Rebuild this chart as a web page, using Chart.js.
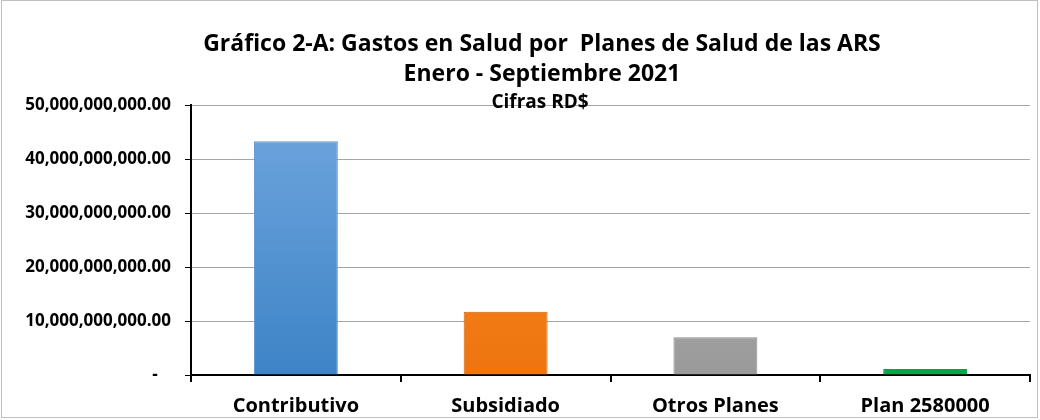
<!DOCTYPE html>
<html>
<head>
<meta charset="utf-8">
<script src="https://cdn.jsdelivr.net/npm/chart.js@4.4.1/dist/chart.umd.min.js"></script>
<style>
  html, body { margin: 0; padding: 0; background: #fff; }
  #wrap { width: 1040px; height: 420px; position: relative; }
</style>
</head>
<body>
<div id="wrap"><canvas id="gastosChart"></canvas></div>
<script>
// Gasto en salud por plan (RD$), Enero - Septiembre 2021
const categories = ['Contributivo', 'Subsidiado', 'Otros Planes', 'Plan 2580000'];
const gastos = [43300000000, 11700000000, 7000000000, 1100000000];
const titleLines = ['Gráfico 2-A: Gastos en Salud por  Planes de Salud de las ARS', 'Enero - Septiembre 2021'];
const subTitle = 'Cifras RD$';

const barTop = ['#70a6de', '#fb8c22', '#b8b8b8', '#00b050'];
const barBottom = ['#3e84c7', '#ee7510', '#9a9a9a', '#00a64a'];
const barEdge = ['#5b95d2', '#c9620c', '#8c8c8c', '#00a64a'];

const FONT = '"Open Sans", sans-serif';

// Gradient fill for each bar
function barFill(context) {
    const chart = context.chart;
    const area = chart.chartArea;
    const i = context.dataIndex;
    if (!area) return barTop[i];
    const g = chart.ctx.createLinearGradient(0, area.top, 0, area.bottom);
    g.addColorStop(0, barTop[i]);
    g.addColorStop(1, barBottom[i]);
    return g;
}

// Titles + outer frame drawn on canvas
const titlePlugin = {
    id: 'titlePlugin',
    afterDraw(chart) {
        const ctx = chart.ctx;
        ctx.save();
        ctx.fillStyle = '#000';
        ctx.textAlign = 'center';
        ctx.textBaseline = 'middle';
        ctx.font = 'bold 23px ' + FONT;
        ctx.fillText(titleLines[0], 542, 44);
        ctx.fillText(titleLines[1], 542, 74);
        ctx.font = 'bold 19px ' + FONT;
        ctx.fillText(subTitle, 540, 103);
        ctx.strokeStyle = '#bfbfbf';
        ctx.lineWidth = 1;
        ctx.strokeRect(1.5, 0.5, 1036, 417);
        ctx.restore();
    }
};

new Chart(document.getElementById('gastosChart'), {
    type: 'bar',
    data: {
        labels: categories,
        datasets: [{
            data: gastos,
            backgroundColor: barFill,
            borderColor: barEdge,
            borderWidth: 1,
            barPercentage: 0.4,
            categoryPercentage: 1.0
        }]
    },
    options: {
        responsive: true,
        maintainAspectRatio: false,
        animation: false,
        layout: {
            padding: { top: 105, right: 10, bottom: 0, left: 0 }
        },
        plugins: {
            legend: { display: false },
            tooltip: { enabled: false }
        },
        scales: {
            x: {
                afterFit(scale) { scale.height = 45; },
                grid: {
                    drawOnChartArea: false,
                    tickLength: 7,
                    tickColor: '#000',
                    lineWidth: 2
                },
                border: { color: '#000', width: 2 },
                ticks: {
                    color: '#000',
                    padding: 12,
                    font: { family: FONT, size: 20, weight: 'bold' }
                }
            },
            y: {
                min: 0,
                max: 50000000000,
                afterFit(scale) { scale.width = 191; },
                grid: {
                    color: '#a6a6a6',
                    lineWidth: 1,
                    tickLength: 6,
                    tickColor: '#000'
                },
                border: { color: '#000', width: 2 },
                ticks: {
                    stepSize: 10000000000,
                    color: '#000',
                    padding: 14,
                    font: { family: FONT, size: 17, weight: 'bold' },
                    callback: function(value) {
                        if (value === 0) return '-   ';
                        return value.toLocaleString('en-US', { minimumFractionDigits: 2, maximumFractionDigits: 2 });
                    }
                }
            }
        }
    },
    plugins: [titlePlugin]
});
</script>
</body>
</html>
